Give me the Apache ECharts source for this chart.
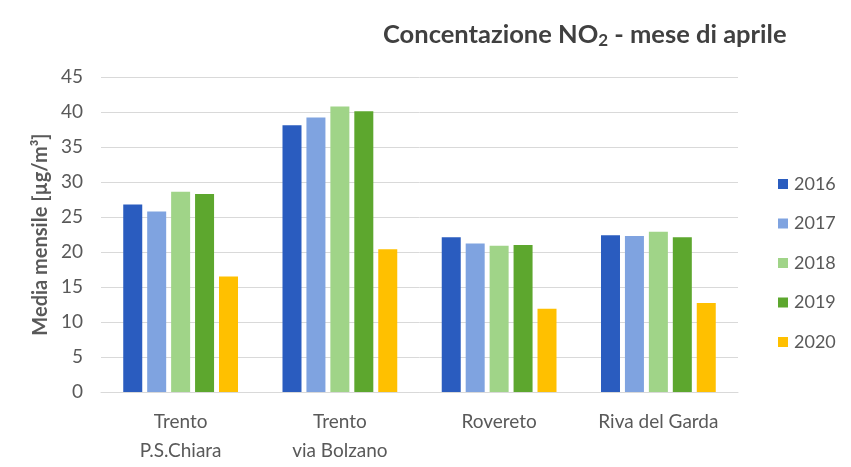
<!DOCTYPE html>
<html><head><meta charset="utf-8">
<script src="https://cdn.jsdelivr.net/npm/echarts@6/dist/echarts.min.js"></script>
<style>html,body{margin:0;padding:0;background:#fff}#c{width:851px;height:467px}</style>
</head><body><div id="c"></div>
<script>
const categories = ['Trento\nP.S.Chiara', 'Trento\nvia Bolzano', 'Rovereto', 'Riva del Garda'];
const years = ['2016', '2017', '2018', '2019', '2020'];
const v2016 = [26.8, 38.1, 22.1, 22.4];
const v2017 = [25.8, 39.2, 21.2, 22.3];
const v2018 = [28.6, 40.8, 20.9, 22.9];
const v2019 = [28.3, 40.1, 21.0, 22.1];
const v2020 = [16.5, 20.4, 11.9, 12.7];
const yTicks = [0, 5, 10, 15, 20, 25, 30, 35, 40, 45];
const colors = ['#2a5cbf', '#7fa3e0', '#a0d488', '#5da72e', '#ffc000'];
const values = [v2016, v2017, v2018, v2019, v2020];
const FONT = 'Lato';
const chart = echarts.init(document.getElementById('c'), null, {renderer: 'canvas'});
chart.setOption({
  animation: false,
  textStyle: {fontFamily: FONT},
  title: {
    text: '{a|Concentazione NO}{s|2}{a| - mese di aprile}',
    left: 378, top: 15,
    textStyle: {
      rich: {
        a: {fontFamily: FONT, fontSize: 25.5, fontWeight: 'bold', color: '#404040'},
        s: {fontFamily: FONT, fontSize: 17, fontWeight: 'bold', color: '#404040', verticalAlign: 'bottom', padding: [12, 0, 0, 0]}
      }
    }
  },
  legend: {
    orient: 'vertical', left: 773, top: 170,
    itemWidth: 10, itemHeight: 10, itemGap: 21.5,
    icon: 'rect',
    textStyle: {fontFamily: FONT, fontSize: 18, color: '#595959', padding: [0, 0, 0, 1]},
    data: years
  },
  grid: {left: 101, right: 113, top: 77, bottom: 75, containLabel: false},
  xAxis: {
    type: 'category', data: categories,
    axisLine: {lineStyle: {color: '#d9d9d9'}},
    axisTick: {show: false},
    axisLabel: {fontFamily: FONT, fontSize: 19, color: '#595959', lineHeight: 29, margin: 15}
  },
  yAxis: {
    type: 'value', min: 0, max: 45, interval: 5,
    name: 'Media mensile [µg/m³]', nameLocation: 'middle', nameGap: 43,
    nameTextStyle: {fontFamily: FONT, fontSize: 20, fontWeight: 'bold', color: '#595959'},
    axisLine: {show: false}, axisTick: {show: false},
    splitLine: {lineStyle: {color: '#d9d9d9', width: 1}},
    axisLabel: {fontFamily: FONT, fontSize: 19, color: '#595959', margin: 18,
      formatter: v => yTicks.includes(v) ? String(v) : ''}
  },
  series: years.map((y, i) => ({
    name: y, type: 'bar', data: values[i],
    itemStyle: {color: colors[i]},
    barWidth: 19, barGap: '26%'
  }))
});
</script></body></html>
